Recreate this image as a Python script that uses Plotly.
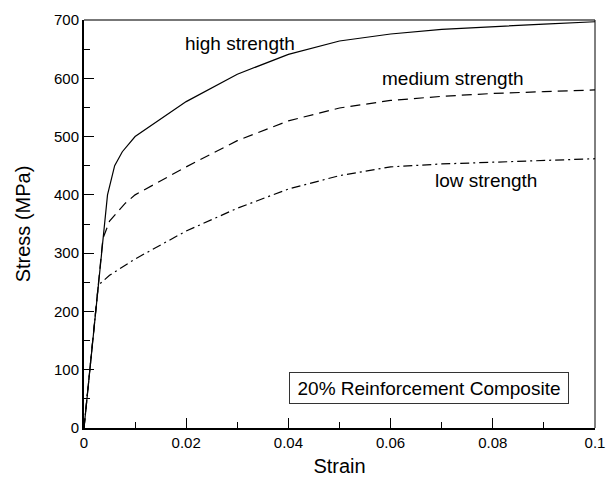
import plotly.graph_objects as go

strain_high = [0, 0.0046, 0.006, 0.0075, 0.01, 0.02, 0.03, 0.04, 0.05, 0.06, 0.07, 0.08, 0.09, 0.1]
stress_high = [0, 400, 450, 474, 500, 560, 607, 641, 664, 676, 684, 689, 693, 697]

strain_med = [0, 0.0037, 0.005, 0.008, 0.01, 0.02, 0.03, 0.04, 0.05, 0.06, 0.07, 0.08, 0.09, 0.1]
stress_med = [0, 325, 355, 385, 400, 448, 493, 527, 549, 562, 569, 574, 577, 580]

strain_low = [0, 0.0028, 0.005, 0.01, 0.02, 0.03, 0.04, 0.05, 0.06, 0.07, 0.08, 0.09, 0.1]
stress_low = [0, 245, 262, 290, 338, 377, 410, 433, 448, 453, 456, 459, 462]

x_ticks = [0, 0.02, 0.04, 0.06, 0.08, 0.1]
x_tick_labels = ["0", "0.02", "0.04", "0.06", "0.08", "0.1"]
y_ticks = [0, 100, 200, 300, 400, 500, 600, 700]

labels = ["high strength", "medium strength", "low strength"]
label_pos = [(0.0305, 660), (0.0722, 600), (0.0787, 425)]
box_text = "20% Reinforcement Composite"

FONT = "Liberation Sans, Arial, Helvetica, sans-serif"

fig = go.Figure()
fig.add_trace(go.Scatter(x=strain_high, y=stress_high, mode="lines",
                         line=dict(color="black", width=1.2), showlegend=False))
fig.add_trace(go.Scatter(x=strain_med, y=stress_med, mode="lines",
                         line=dict(color="black", width=1.2, dash="10px,6px"), showlegend=False))
fig.add_trace(go.Scatter(x=strain_low, y=stress_low, mode="lines",
                         line=dict(color="black", width=1.2, dash="9px,4px,2px,4px"), showlegend=False))

for t, (lx, ly) in zip(labels, label_pos):
    fig.add_annotation(x=lx, y=ly, text=t, showarrow=False, xanchor="center", yanchor="middle",
                       font=dict(family=FONT, size=19, color="black"))

fig.add_annotation(x=0.0675, y=69, text=box_text, showarrow=False, xanchor="center", yanchor="middle",
                   font=dict(family=FONT, size=19, color="black"), width=270, height=22,
                   bordercolor="#333333", borderwidth=1, borderpad=4, bgcolor="white")

# top and right frame lines
fig.add_shape(type="line", xref="paper", yref="paper", x0=0, x1=1, y0=1, y1=1,
              line=dict(color="#777777", width=2))
fig.add_shape(type="line", xref="paper", yref="paper", x0=1, x1=1, y0=0, y1=1,
              line=dict(color="black", width=1))

fig.update_xaxes(range=[0, 0.1], tickvals=x_ticks, ticktext=x_tick_labels, automargin=False,
                 ticks="inside", ticklen=10, tickwidth=1, tickcolor="black",
                 minor=dict(dtick=0.01, ticks="inside", ticklen=6, tickcolor="black", tickwidth=1),
                 showline=True, linecolor="black", linewidth=2, showgrid=False, zeroline=False,
                 title=dict(text="Strain", font=dict(family=FONT, size=20, color="black"), standoff=9),
                 tickfont=dict(family=FONT, size=15, color="black"))
fig.update_yaxes(range=[0, 700], tickvals=y_ticks, automargin=False,
                 ticks="inside", ticklen=10, tickwidth=1, tickcolor="black",
                 minor=dict(dtick=50, ticks="inside", ticklen=6, tickcolor="black", tickwidth=1),
                 showline=True, linecolor="black", linewidth=2, showgrid=False, zeroline=False,
                 title=dict(text="Stress (MPa)", font=dict(family=FONT, size=20, color="black"), standoff=18),
                 tickfont=dict(family=FONT, size=15, color="black"))

fig.update_layout(width=613, height=478, margin=dict(l=84, r=18, t=20, b=50),
                  plot_bgcolor="white", paper_bgcolor="white")

fig.write_html("out.html")
